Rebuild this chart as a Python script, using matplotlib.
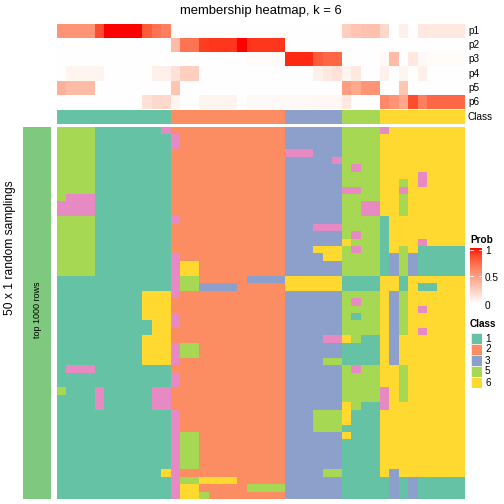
import numpy as np
import matplotlib
matplotlib.use('Agg')
import matplotlib.pyplot as plt
from matplotlib.patches import Rectangle

plt.rcParams['font.family'] = ['Liberation Sans', 'DejaVu Sans']

# ---------------- data ----------------
title = "membership heatmap, k = 6"
prob_names = ["p1", "p2", "p3", "p4", "p5", "p6"]
col_class = [1]*12 + [2]*12 + [3]*6 + [5]*4 + [6]*9

p1 = [0.55, 0.55, 0.55, 0.55, 0.85, 1, 1, 1, 1, 0.8, 0.7, 0.65] + [0]*12 + [0]*6 + \
     [0.25, 0.3, 0.32, 0.32] + [0.2, 0, 0.08, 0, 0.12, 0.12, 0.12, 0.12, 0.12]
p2 = [0]*12 + [0.35, 0.7, 0.7, 0.9, 0.92, 0.92, 0.92, 1, 0.92, 0.92, 0.92, 0.92] + [0]*6 + [0]*4 + [0]*9
p3 = [0]*12 + [0]*8 + [0.02, 0.02, 0.02, 0.02] + [0.95, 0.95, 0.95, 0.8, 0.75, 0.75] + [0]*4 + \
     [0.03, 0.35, 0, 0.12, 0.03, 0.02, 0.02, 0.02, 0.02]
p4 = [0, 0.05, 0.05, 0.05, 0.06, 0, 0, 0, 0, 0, 0.07, 0.08] + [0.15, 0.25, 0.25] + [0]*9 + \
     [0, 0, 0, 0.07, 0.12, 0.15] + [0.05, 0.12, 0, 0] + [0.07, 0, 0.05, 0, 0.08, 0, 0, 0, 0]
p5 = [0.4, 0.35, 0.35, 0.35] + [0]*8 + [0.3] + [0]*11 + [0]*6 + [0.5, 0.45, 0.55, 0.55] + \
     [0, 0, 0.3, 0, 0, 0, 0, 0, 0]
p6 = [0]*9 + [0.15, 0.2, 0.2] + [0.05, 0, 0, 0.05, 0.05, 0.05, 0.05, 0, 0.03, 0.03, 0.03, 0.03] + \
     [0.03, 0.03, 0.03, 0.04, 0.04, 0.04] + [0.12, 0, 0, 0] + [0.6, 0.55, 0.45, 0.85, 0.65, 0.75, 0.75, 0.75, 0.75]

# 50 sampling rows x 43 columns (class labels per cell)
membership_rows = [
    "555511111114" "222222222222" "333333" "5555" "466666666",
    "555511111111" "422222222222" "333333" "5555" "666666666",
    "555511111111" "422222222222" "333333" "5555" "666666666",
    "555511111111" "222222222222" "444333" "5555" "666666666",
    "555511111111" "222222222222" "333334" "5555" "666666666",
    "555511111111" "222222222222" "333333" "5455" "666666666",
    "555511111111" "222222222222" "333333" "5555" "666646666",
    "555511111111" "222222222222" "333333" "5555" "665646666",
    "555511111111" "222222222222" "333333" "4455" "664666666",
    "544411111111" "222222222222" "333333" "5555" "665666666",
    "444411111111" "222222222222" "333333" "5544" "665666666",
    "444411111111" "222222222222" "333333" "5544" "665666666",
    "555511111111" "422222222222" "333333" "5555" "166666666",
    "555511111111" "222222222222" "333444" "5555" "166666666",
    "555511111111" "222222222222" "333333" "5455" "166666666",
    "555511111111" "222222222222" "333333" "6555" "166646666",
    "555511111111" "222222222222" "333666" "5455" "165611111",
    "555511111111" "422222222222" "333366" "5555" "135311111",
    "555511111111" "466222222222" "333333" "5555" "135311111",
    "555511111111" "466222222222" "333333" "5555" "135311111",
    "111111111111" "455222223333" "666666" "1111" "661666666",
    "111111111111" "455333322222" "666666" "1111" "661611666",
    "111111111666" "422222222222" "333333" "5555" "635666666",
    "111111111666" "222222222222" "333333" "5455" "635666666",
    "111111111666" "222222222222" "333333" "5555" "635646666",
    "111111111666" "422222222222" "333333" "5155" "635666666",
    "111111111166" "422222222222" "333333" "5555" "635666666",
    "111111111166" "222222222222" "333333" "5555" "635646666",
    "111111111666" "222222222222" "333344" "6511" "636666666",
    "111111111666" "455222222222" "333333" "1111" "636666666",
    "111111111666" "455222222222" "333333" "1111" "636666666",
    "111111111666" "422222222222" "333355" "1111" "636666666",
    "144411111111" "222222222222" "333333" "5455" "665666666",
    "111111111111" "422222222222" "333333" "5555" "665666666",
    "111111111111" "422222222222" "333333" "5555" "665666666",
    "511141111144" "222222222222" "333333" "5555" "465666666",
    "111141111144" "222222222222" "333333" "5555" "465666666",
    "111141111144" "222222222222" "333333" "6511" "466666666",
    "111111111111" "422222222222" "333555" "6111" "666666666",
    "111111111111" "422222222222" "333555" "6111" "666666666",
    "111111111111" "422222222222" "333555" "1111" "666666666",
    "111111111111" "455222222222" "333333" "6111" "666666666",
    "111111111111" "455222222222" "333333" "1111" "666666666",
    "111111111111" "455222222222" "333333" "1111" "666666666",
    "111111111111" "455222222222" "333333" "1111" "666666666",
    "111111111111" "455222222222" "333333" "1111" "666666666",
    "111111111116" "422222222222" "333355" "1111" "636666666",
    "111111111111" "455666622222" "333333" "1111" "131311111",
    "111111111111" "466222225555" "333333" "1111" "131311111",
    "111111111111" "466522222222" "333333" "1111" "131311111",
]

legend_classes = ["1", "2", "3", "5", "6"]
prob_ticks = [1, 0.5, 0]

class_colors = {1: "#66C2A5", 2: "#FC8D62", 3: "#8DA0CB", 4: "#E78AC3",
                5: "#A6D854", 6: "#FFD92F"}

# ---------------- helpers ----------------
W = H = 504
fig = plt.figure(figsize=(7, 7), dpi=72)


def ax_px(x0, y0, x1, y1):
    a = fig.add_axes([x0 / W, 1 - y1 / H, (x1 - x0) / W, (y1 - y0) / H])
    a.set_axis_off()
    return a


def lab2rgb(L, a, b):
    fy = (L + 16) / 116.0
    fx = fy + a / 500.0
    fz = fy - b / 200.0

    def finv(t):
        return np.where(t ** 3 > 0.008856, t ** 3, (t - 16 / 116.0) / 7.787)
    X = 0.95047 * finv(fx)
    Y = 1.0 * finv(fy)
    Z = 1.08883 * finv(fz)
    r = 3.2406 * X - 1.5372 * Y - 0.4986 * Z
    g = -0.9689 * X + 1.8758 * Y + 0.0415 * Z
    bb = 0.0557 * X - 0.2040 * Y + 1.0570 * Z

    def gam(c):
        c = np.clip(c, 0, 1)
        return np.where(c <= 0.0031308, 12.92 * c, 1.055 * c ** (1 / 2.4) - 0.055)
    return np.clip(np.stack([gam(r), gam(g), gam(bb)], -1), 0, 1)


def prob_color(p):
    p = np.asarray(p, float)
    return lab2rgb(100 + (53.24 - 100) * p, 80.09 * p, 67.20 * p)


def hex2rgb(h):
    h = h.lstrip('#')
    return [int(h[i:i + 2], 16) / 255 for i in (0, 2, 4)]


X0, X1 = 57, 465

# ---------------- title ----------------
fig.text((X0 + X1) / 2 / W, 1 - 11 / H, title, ha='center', va='center', fontsize=13)

# ---------------- probability annotation ----------------
probs = np.array([p1, p2, p3, p4, p5, p6])
ax_p = ax_px(X0, 24, X1, 109)
ax_p.imshow(prob_color(probs), aspect='auto', interpolation='nearest')
row_h = (109 - 24) / 6
for i, nm in enumerate(prob_names):
    fig.text(468 / W, 1 - (24 + row_h * (i + 0.5)) / H, nm, ha='left', va='center', fontsize=10)

# ---------------- class annotation ----------------
ax_c = ax_px(X0, 110, X1, 124)
ax_c.imshow(np.array([[hex2rgb(class_colors[c]) for c in col_class]]), aspect='auto',
            interpolation='nearest')
fig.text(468 / W, 1 - 117 / H, "Class", ha='left', va='center', fontsize=10)

# ---------------- main heatmap ----------------
mat = np.array([[hex2rgb(class_colors[int(ch)]) for ch in row] for row in membership_rows])
ax_m = ax_px(X0, 127, X1, 499)
ax_m.imshow(mat, aspect='auto', interpolation='nearest')

# left annotation bar
ax_l = ax_px(23, 127, 51, 499)
ax_l.add_patch(Rectangle((0, 0), 1, 1, color="#7FC97F"))
ax_l.set_xlim(0, 1); ax_l.set_ylim(0, 1)
fig.text(37 / W, 1 - 310 / H, "top 1000 rows", rotation=90, ha='center', va='center', fontsize=9)
fig.text(10 / W, 1 - 248 / H, "50 x 1 random samplings", rotation=90, ha='center', va='center',
         fontsize=12)

# ---------------- legends ----------------
fig.text(470 / W, 1 - 240 / H, "Prob", ha='left', va='center', fontsize=10, fontweight='bold')
ax_cb = ax_px(470, 248, 482, 304)
grad = np.linspace(1, 0, 100)[:, None]
ax_cb.imshow(prob_color(np.repeat(grad, 2, axis=1)), aspect='auto', extent=[0, 1, 0, 1])
ax_cb.set_xlim(0, 1); ax_cb.set_ylim(0, 1)
for v in [0.5, 0.96]:
    ax_cb.plot([0, 0.22], [v, v], color='white', lw=0.8)
    ax_cb.plot([0.78, 1], [v, v], color='white', lw=0.8)
tick_y = {1: 251, 0.5: 278, 0: 306}
for t in prob_ticks:
    fig.text(485 / W, 1 - tick_y[t] / H, str(t), ha='left', va='center', fontsize=10)

fig.text(470 / W, 1 - 324 / H, "Class", ha='left', va='center', fontsize=10, fontweight='bold')
for i, lab in enumerate(legend_classes):
    y0 = 333 + i * 11
    a = ax_px(470.5, y0, 481.5, y0 + 10.5)
    a.add_patch(Rectangle((0, 0), 1, 1, facecolor=class_colors[int(lab)], edgecolor='white', lw=0.5))
    a.set_xlim(0, 1); a.set_ylim(0, 1)
    fig.text(485 / W, 1 - (y0 + 5.5) / H, lab, ha='left', va='center', fontsize=10)

fig.savefig("out.png", dpi=72)
